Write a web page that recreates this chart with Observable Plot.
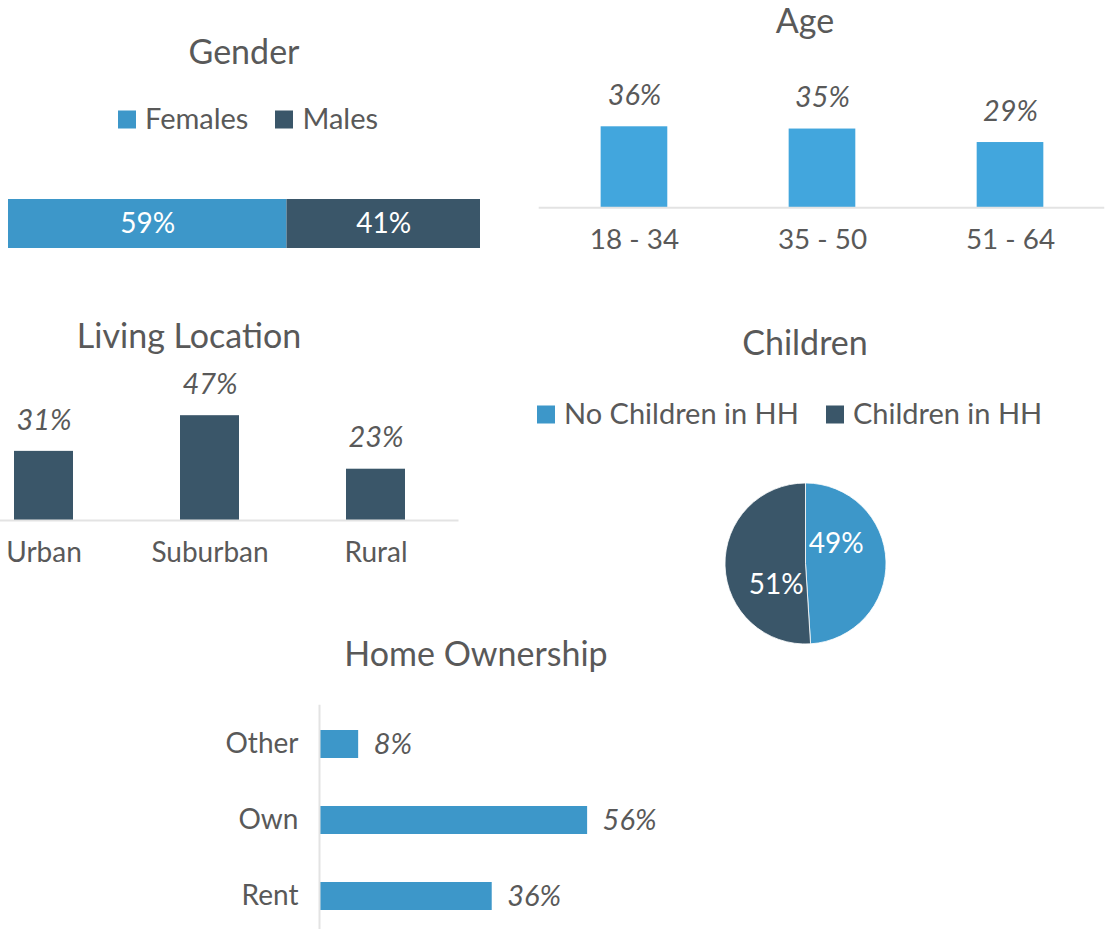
<!DOCTYPE html>
<html>
<head>
<meta charset="utf-8">
<script src="https://cdn.jsdelivr.net/npm/d3@7"></script>
<script src="https://cdn.jsdelivr.net/npm/@observablehq/plot@0.6"></script>
<style>
  html, body { margin: 0; padding: 0; background: #fff; overflow: hidden; }
  #root { position: relative; width: 1107px; height: 929px; overflow: hidden;
          font-family: Lato, "Open Sans", sans-serif; color: #595959; }
  .panel { position: absolute; }
  .title { position: absolute; font-size: 34px; line-height: 1; white-space: nowrap;
           transform: translate(-50%, -50%); }
  .legend { position: absolute; display: flex; align-items: center; font-size: 29px;
            line-height: 1; white-space: nowrap; transform: translateY(-50%); }
  .legend .item { display: flex; align-items: center; margin-right: 27px; }
  .legend .item:last-child { margin-right: 0; }
  .legend .sw { width: 18px; height: 18px; margin-right: 9px; display: inline-block; position: relative; top: 2px; }
</style>
</head>
<body>
<div id="root"></div>
<script>
// ---------- data ----------
const genderGroups = ["Females", "Males"];
const genderValues = [59, 41];

const ageGroups = ["18 - 34", "35 - 50", "51 - 64"];
const ageValues = [36, 35, 29];

const locationGroups = ["Urban", "Suburban", "Rural"];
const locationValues = [31, 47, 23];

const childrenGroups = ["No Children in HH", "Children in HH"];
const childrenValues = [49, 51];

const homeGroups = ["Other", "Own", "Rent"];
const homeValues = [8, 56, 36];

const titles = ["Gender", "Age", "Living Location", "Children", "Home Ownership"];

// ---------- style ----------
const BLUE = "#3D97C9";
const AGE_BLUE = "#42A6DD";
const DARK = "#3A5669";
const TEXT = "#595959";
const AXIS = "#E3E3E3";
const FONT = "Lato, 'Open Sans', sans-serif";
const VAL_SIZE = 29;
const pct = d => d.value + "%";

const root = document.getElementById("root");
const zip = (g, v) => g.map((group, i) => ({group, value: v[i]}));

function place(node, left, top) {
  const div = document.createElement("div");
  div.className = "panel";
  div.style.left = left + "px";
  div.style.top = top + "px";
  div.appendChild(node);
  root.appendChild(div);
}
function title(text, cx, cy) {
  const d = document.createElement("div");
  d.className = "title";
  d.textContent = text;
  d.style.left = cx + "px";
  d.style.top = cy + "px";
  root.appendChild(d);
}
function legend(groups, colors, left, cy) {
  const d = document.createElement("div");
  d.className = "legend";
  d.style.left = left + "px";
  d.style.top = cy + "px";
  groups.forEach(g => {
    const it = document.createElement("span");
    it.className = "item";
    const sw = document.createElement("span");
    sw.className = "sw";
    sw.style.background = colors.apply(g);
    it.appendChild(sw);
    it.appendChild(document.createTextNode(g));
    d.appendChild(it);
  });
  root.appendChild(d);
}
const baseStyle = {fontFamily: FONT, fontSize: "28px", color: TEXT, background: "transparent", overflow: "visible"};

// ---------- Gender ----------
const genderData = zip(genderGroups, genderValues);
const genderColor = Plot.scale({color: {type: "ordinal", domain: genderGroups, range: [BLUE, DARK]}});
title(titles[0], 244, 51);
legend(genderGroups, genderColor, 118, 117);
place(Plot.plot({
  width: 490, height: 68,
  marginLeft: 8, marginRight: 10, marginTop: 9, marginBottom: 10,
  style: baseStyle,
  x: {domain: [0, 100], axis: null},
  color: {type: "ordinal", domain: genderGroups, range: [BLUE, DARK]},
  marks: [
    Plot.barX(genderData, Plot.stackX({x: "value", fill: "group"})),
    Plot.text(genderData, Plot.stackX({x: "value", text: pct, fill: "white", fontSize: 28, fontFamily: FONT}))
  ]
}), 0, 190);

// ---------- Age ----------
const ageData = zip(ageGroups, ageValues);
title(titles[1], 805, 20);
place(Plot.plot({
  width: 580, height: 220,
  marginLeft: 8.75, marginRight: 2.75, marginTop: 57.6, marginBottom: 72,
  style: baseStyle,
  x: {type: "band", domain: ageGroups, paddingInner: 0.646, paddingOuter: 0.323, tickSize: 0, tickPadding: 22, label: null},
  y: {domain: [0, 40], axis: null},
  marks: [
    Plot.barY(ageData, {x: "group", y: "value", fill: AGE_BLUE}),
    Plot.ruleY([0], {stroke: AXIS, strokeWidth: 2}),
    Plot.text(ageData, {x: "group", y: "value", text: pct, dy: -31, fontSize: VAL_SIZE, fontStyle: "italic", fill: TEXT, fontFamily: FONT})
  ]
}), 530, 60);

// ---------- Living Location ----------
const locData = zip(locationGroups, locationValues);
title(titles[2], 189, 335);
place(Plot.plot({
  width: 500, height: 290,
  marginLeft: 0.5, marginRight: 1.5, marginTop: 108.5, marginBottom: 70,
  style: baseStyle,
  x: {type: "band", domain: locationGroups, paddingInner: 0.6446, paddingOuter: 0.3223, tickSize: 0, tickPadding: 22, label: null},
  y: {domain: [0, 50], axis: null},
  marks: [
    Plot.barY(locData, {x: "group", y: "value", fill: DARK}),
    Plot.ruleY([0], {stroke: AXIS, strokeWidth: 2}),
    Plot.text(locData, {x: "group", y: "value", text: pct, dy: -31, fontSize: VAL_SIZE, fontStyle: "italic", fill: TEXT, fontFamily: FONT})
  ]
}), -40, 300);

// ---------- Children (pie) ----------
const childData = zip(childrenGroups, childrenValues);
const childColor = Plot.scale({color: {type: "ordinal", domain: childrenGroups, range: [BLUE, DARK]}});
title(titles[3], 805, 342);
legend(childrenGroups, childColor, 537, 412);
const pieArcs = d3.pie().sort(null).value(d => d.value)(childData);
const labelPos = pieArcs.map(a => {
  const t = a.startAngle + 0.32 * (a.endAngle - a.startAngle);
  return {text: a.data.value + "%", x: 0.45 * Math.sin(t), y: 0.45 * Math.cos(t)};
});
place(Plot.plot({
  width: 200, height: 200,
  marginLeft: 20, marginRight: 19, marginTop: 20, marginBottom: 19,
  style: baseStyle,
  x: {domain: [-1, 1], axis: null},
  y: {domain: [-1, 1], axis: null},
  marks: [
    (index, scales) => {
      const cx = scales.x(0), cy = scales.y(0), r = scales.x(1) - scales.x(0);
      const arc = d3.arc().innerRadius(0).outerRadius(r);
      const g = d3.create("svg:g").attr("transform", `translate(${cx},${cy})`);
      g.selectAll("path").data(pieArcs).join("path")
        .attr("d", arc)
        .attr("fill", d => childColor.apply(d.data.group))
        .attr("stroke", "#ffffff")
        .attr("stroke-width", 0.8);
      return g.node();
    },
    Plot.text(labelPos, {x: "x", y: "y", text: "text", fill: "white", fontSize: 28, fontFamily: FONT})
  ]
}), 705, 463);

// ---------- Home Ownership ----------
const homeData = zip(homeGroups, homeValues);
title(titles[4], 476, 653);
place(Plot.plot({
  width: 700, height: 260,
  marginLeft: 320, marginRight: 93.8, marginTop: 14.75, marginBottom: 15.75,
  style: baseStyle,
  y: {type: "band", domain: homeGroups, paddingInner: 0.634, paddingOuter: 0.317, tickSize: 0, tickPadding: 22, label: null},
  x: {domain: [0, 60], axis: null},
  marks: [
    Plot.barX(homeData, {y: "group", x: "value", fill: BLUE}),
    Plot.ruleX([0], {stroke: AXIS, strokeWidth: 2, dx: -1}),
    Plot.text(homeData, {y: "group", x: "value", text: pct, dx: 15, textAnchor: "start", fontSize: VAL_SIZE, fontStyle: "italic", fill: TEXT, fontFamily: FONT})
  ]
}), 0, 690);
</script>
</body>
</html>
